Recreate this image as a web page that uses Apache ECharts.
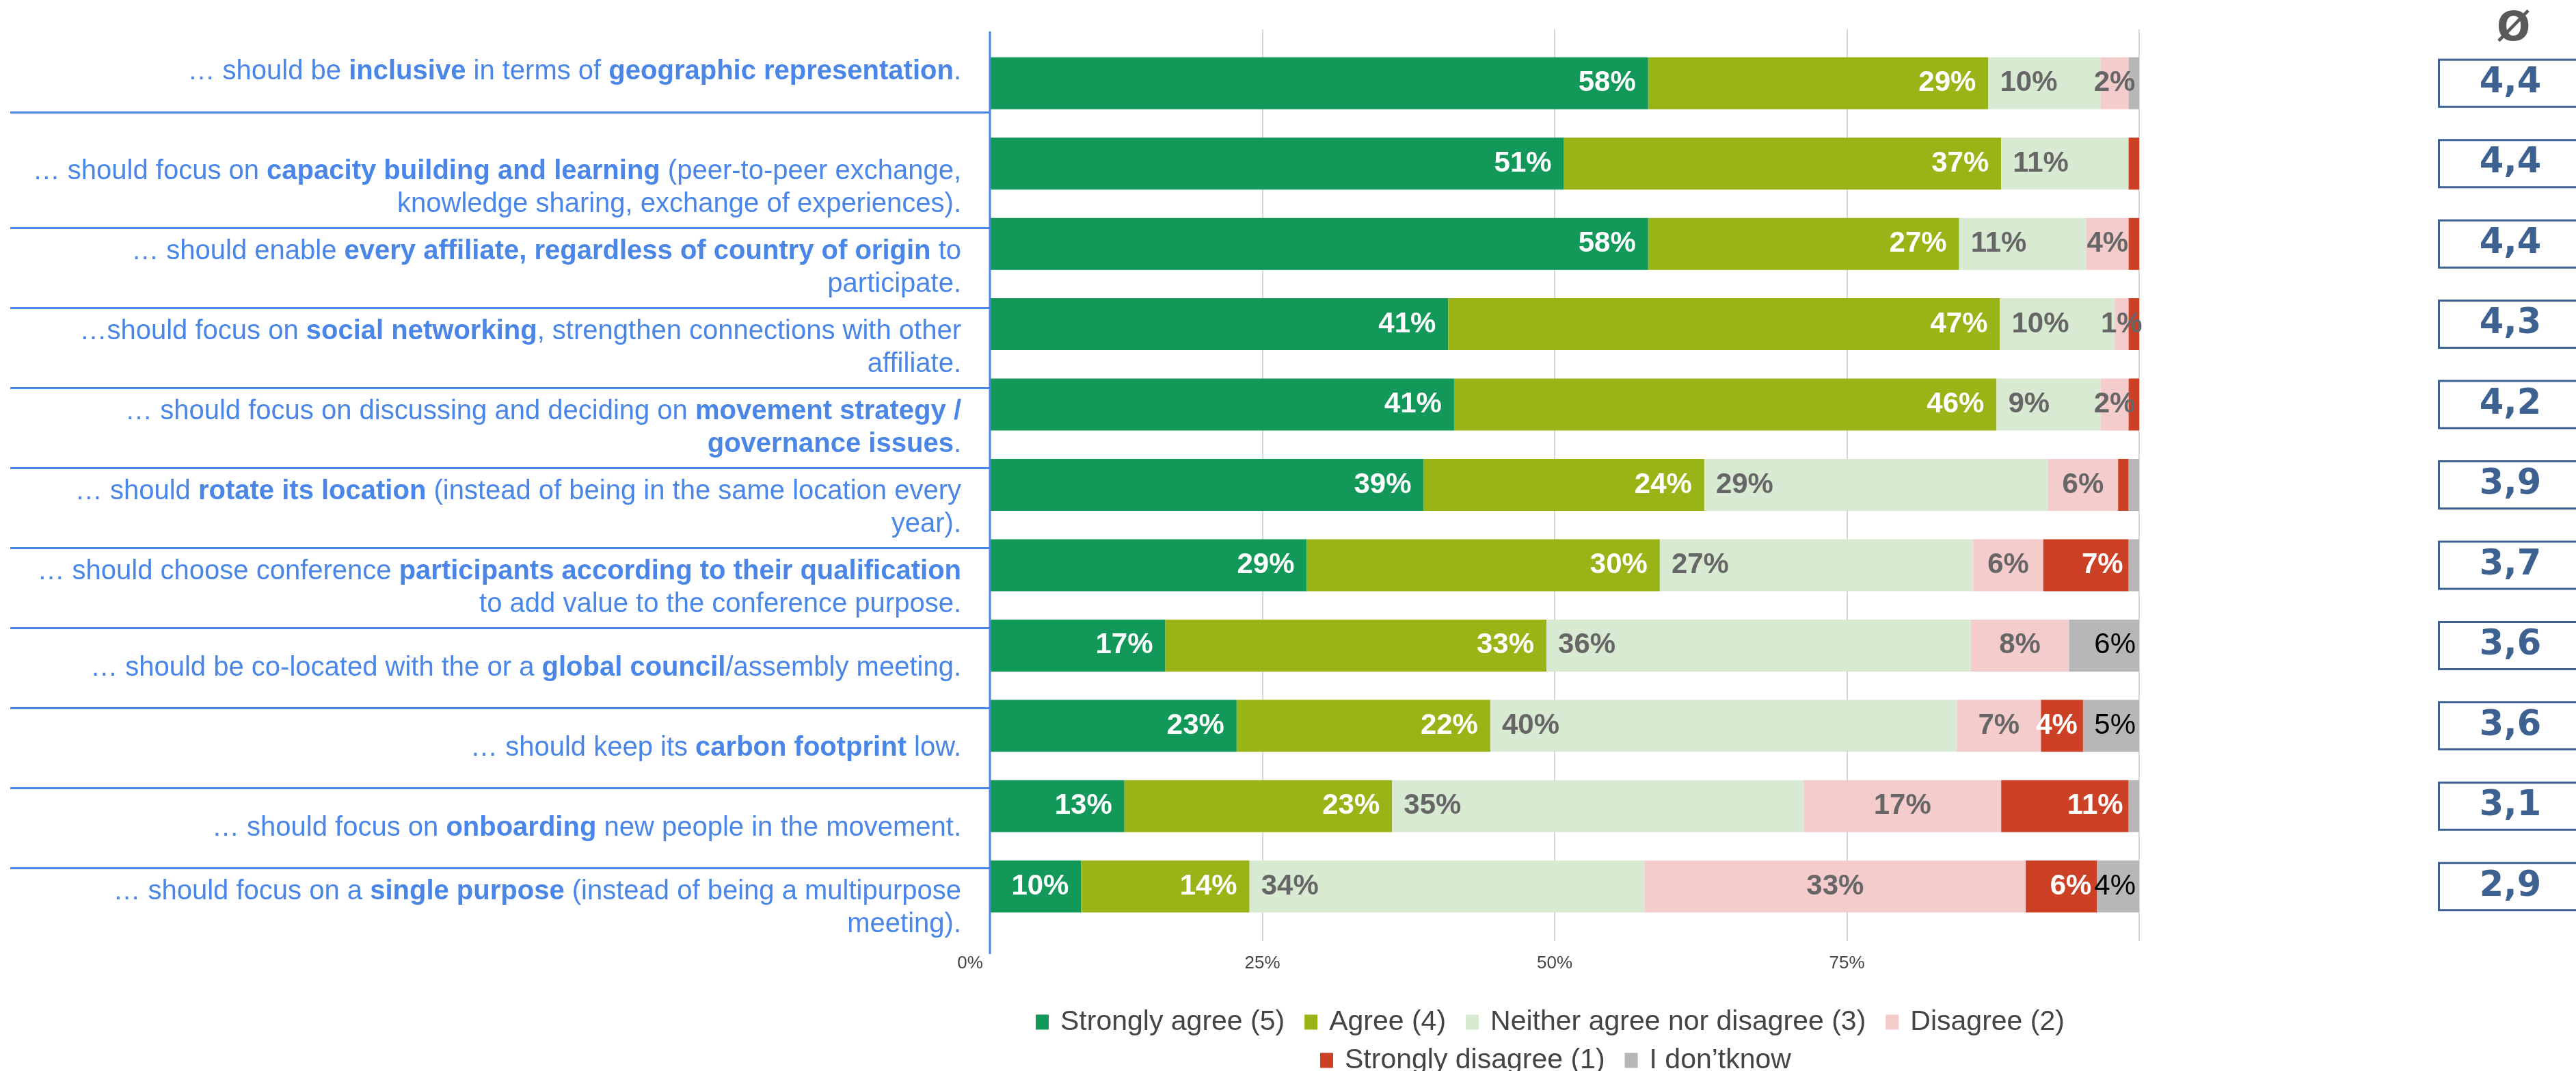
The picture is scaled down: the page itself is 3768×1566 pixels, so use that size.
<!DOCTYPE html>
<html>
<head>
<meta charset="utf-8">
<title>Conference survey – agreement</title>
<script src="https://cdn.jsdelivr.net/npm/echarts@6/dist/echarts.min.js"></script>
<style>
  html, body { margin: 0; padding: 0; background: #fff; }
  #chart { width: 3768px; height: 1566px; }
</style>
</head>
<body>
<div id="chart"></div>
<script>
/* statements, **bold** marks the highlighted words */
const categories = [
  '… should be **inclusive** in terms of **geographic representation**.',
  '… should focus on **capacity building and learning** (peer-to-peer exchange,\nknowledge sharing, exchange of experiences).',
  '… should enable **every affiliate, regardless of country of origin** to\nparticipate.',
  '…should focus on **social networking**, strengthen connections with other\naffiliate.',
  '… should focus on discussing and deciding on **movement strategy /\ngovernance issues**.',
  '… should **rotate its location** (instead of being in the same location every\nyear).',
  '… should choose conference **participants according to their qualification**\nto add value to the conference purpose.',
  '… should be co-located with the or a **global council**/assembly meeting.',
  '… should keep its **carbon footprint** low.',
  '… should focus on **onboarding** new people in the movement.',
  '… should focus on a **single purpose** (instead of being a multipurpose\nmeeting).'
]

/* share of answers in %, one value per statement */
const stronglyAgree = [58.0, 50.8, 58.0, 40.9, 41.4, 38.8, 28.8, 16.7, 22.8, 13.2, 9.5]
const agree = [29.1, 37.4, 26.6, 47.2, 46.4, 24.0, 30.2, 32.6, 21.7, 22.9, 14.4]
const neither = [9.6, 10.9, 10.9, 9.8, 8.9, 29.4, 26.8, 36.3, 39.9, 35.2, 33.8]
const disagree = [2.4, 0, 3.6, 1.2, 2.4, 6.0, 6.0, 8.4, 7.2, 16.9, 32.6]
const stronglyDisagree = [0, 0.9, 0.9, 0.9, 0.9, 0.9, 7.3, 0, 3.6, 10.9, 6.1]
const dontKnow = [0.9, 0, 0, 0, 0, 0.9, 0.9, 6.0, 4.8, 0.9, 3.6]

/* mean score per statement */
const averages = [4.4, 4.4, 4.4, 4.3, 4.2, 3.9, 3.7, 3.6, 3.6, 3.1, 2.9]

const levelNames = [
  'Strongly agree (5)',
  'Agree (4)',
  'Neither agree nor disagree (3)',
  'Disagree (2)',
  'Strongly disagree (1)',
  'I don\u2019tknow'
]

const FONT = 'Arial, "Liberation Sans", Helvetica, sans-serif'
const BLUE = '#4a86e8'
const NAVY = '#3d6191'
const PLOT_LEFT = 1419
const PLOT_WIDTH = 1710

// series look: colour, label colour, label position
const levelStyles = [
  { color: '#12995a', label: '#ffffff', pos: 'insideRight', weight: 'bold', dist: 18 },
  { color: '#99b416', label: '#ffffff', pos: 'insideRight', weight: 'bold', dist: 18 },
  { color: '#d9ead3', label: '#666666', pos: 'insideLeft', weight: 'bold', dist: 17 },
  { color: '#f4cccc', label: '#666666', pos: 'inside', weight: 'bold', dist: 5 },
  { color: '#cc4125', label: '#ffffff', pos: 'insideRight', weight: 'bold', dist: 8 },
  { color: '#b7b7b7', label: '#000000', pos: 'insideRight', weight: 'normal', dist: 5 }
]
const levelData = [stronglyAgree, agree, neither, disagree, stronglyDisagree, dontKnow]

/* "**x**" -> rich text tokens */
function toRich(text) {
  return text
    .split('**')
    .map((part, i) => (part ? `{${i % 2 ? 'b' : 'n'}|${part}}` : ''))
    .join('')
}

/* statement column: blue text, blue rules between rows */
function tableAxis(gridIndex, data, showMaxLine) {
  return {
    gridIndex,
    type: 'category',
    data,
    inverse: true,
    position: 'right',
    z: 10,
    axisLine: { show: false },
    axisTick: { show: false },
    splitLine: {
      show: true,
      interval: 0,
      showMinLine: false,
      showMaxLine,
      lineStyle: { color: BLUE, width: 3 }
    },
    axisLabel: {
      inside: true,
      interval: 0,
      margin: 42,
      align: 'right',
      formatter: v => toRich(v),
      rich: {
        n: { fontFamily: FONT, fontSize: 40, lineHeight: 48, color: BLUE, align: 'right' },
        b: { fontFamily: FONT, fontSize: 40, lineHeight: 48, color: BLUE, fontWeight: 'bold', align: 'right' }
      }
    }
  }
}

const legendBase = {
  itemWidth: 19,
  itemHeight: 22,
  itemGap: 29,
  icon: 'rect',
  textStyle: { fontFamily: FONT, fontSize: 41, color: '#444', padding: [0, 0, 0, 12] }
}

// grids keep their exact size even when labels run off the canvas
const gridBase = { outerBoundsMode: 'none', containLabel: false }

const chart = echarts.init(document.getElementById('chart'))

chart.setOption({
  animation: false,
  backgroundColor: '#fff',
  title: {
    text: 'Ø',
    left: 3647,
    top: 10,
    textStyle: { fontFamily: '"DejaVu Sans", sans-serif', fontSize: 58, fontWeight: 'bold', color: '#595959' }
  },
  legend: [
    Object.assign({ data: levelNames.slice(0, 4), left: 1510, top: 1469 }, legendBase),
    Object.assign({ data: levelNames.slice(4), left: 1926, top: 1525 }, legendBase)
  ],
  grid: [
    // bars
    Object.assign({ left: PLOT_LEFT, width: PLOT_WIDTH, top: 63, height: 1292 }, gridBase),
    // gridlines + percent ticks
    Object.assign({ left: PLOT_LEFT, width: PLOT_WIDTH, top: 43, height: 1333 }, gridBase),
    // statement table, first row
    Object.assign({ left: 15, width: 1433, top: 46, height: 118 }, gridBase),
    // statement table, other rows
    Object.assign({ left: 15, width: 1433, top: 216, height: 1170 }, gridBase)
  ],
  xAxis: [
    { gridIndex: 0, type: 'value', min: 0, max: 100, show: false },
    {
      gridIndex: 1,
      type: 'value',
      min: 0,
      max: 100,
      interval: 25,
      axisLine: { show: false },
      axisTick: { show: false },
      splitLine: { show: true, lineStyle: { color: '#d6d6d6', width: 2 } },
      axisLabel: {
        margin: 20,
        fontFamily: FONT,
        fontSize: 26,
        color: '#444',
        formatter: v => (v === 100 ? '' : v + '%')
      }
    },
    { gridIndex: 2, type: 'value', show: false },
    { gridIndex: 3, type: 'value', show: false }
  ],
  yAxis: [
    {
      gridIndex: 0,
      type: 'category',
      data: categories,
      inverse: true,
      axisLine: { show: false },
      axisTick: { show: false },
      axisLabel: { show: false }
    },
    { gridIndex: 1, type: 'value', show: false },
    tableAxis(2, categories.slice(0, 1), true),
    tableAxis(3, categories.slice(1), false),
    // mean score boxes on the right
    {
      gridIndex: 0,
      type: 'category',
      data: averages,
      inverse: true,
      position: 'right',
      axisLine: { show: false },
      axisTick: { show: false },
      axisLabel: {
        interval: 0,
        margin: 440,
        align: 'left',
        formatter: v => '{box|' + String(v).replace('.', ',') + '}',
        rich: {
          box: {
            width: 206,
            height: 66,
            lineHeight: 66,
            align: 'center',
            backgroundColor: '#fff',
            borderColor: NAVY,
            borderWidth: 3,
            fontFamily: '"DejaVu Sans", sans-serif',
            fontSize: 51,
            fontWeight: 'bold',
            color: NAVY
          }
        }
      }
    }
  ],
  series: levelNames.map((name, i) => ({
    name,
    type: 'bar',
    stack: 'total',
    xAxisIndex: 0,
    yAxisIndex: 0,
    barWidth: 76,
    data: levelData[i],
    itemStyle: { color: levelStyles[i].color },
    label: {
      show: true,
      position: levelStyles[i].pos,
      distance: levelStyles[i].dist,
      fontFamily: FONT,
      fontSize: 42,
      fontWeight: levelStyles[i].weight,
      color: levelStyles[i].label,
      formatter: p => (p.value >= 1 ? Math.round(p.value) + '%' : '')
    }
  })),
  graphic: [
    // the statement table sits over the first bit of the plot
    {
      type: 'rect',
      silent: true,
      z: 3,
      shape: { x: 0, y: 40, width: 1447, height: 1346 },
      style: { fill: '#fff' }
    },
    {
      type: 'line',
      silent: true,
      z: 11,
      shape: { x1: 1448, y1: 46, x2: 1448, y2: 1395 },
      style: { stroke: BLUE, lineWidth: 3 }
    }
  ]
})
</script>
</body>
</html>
